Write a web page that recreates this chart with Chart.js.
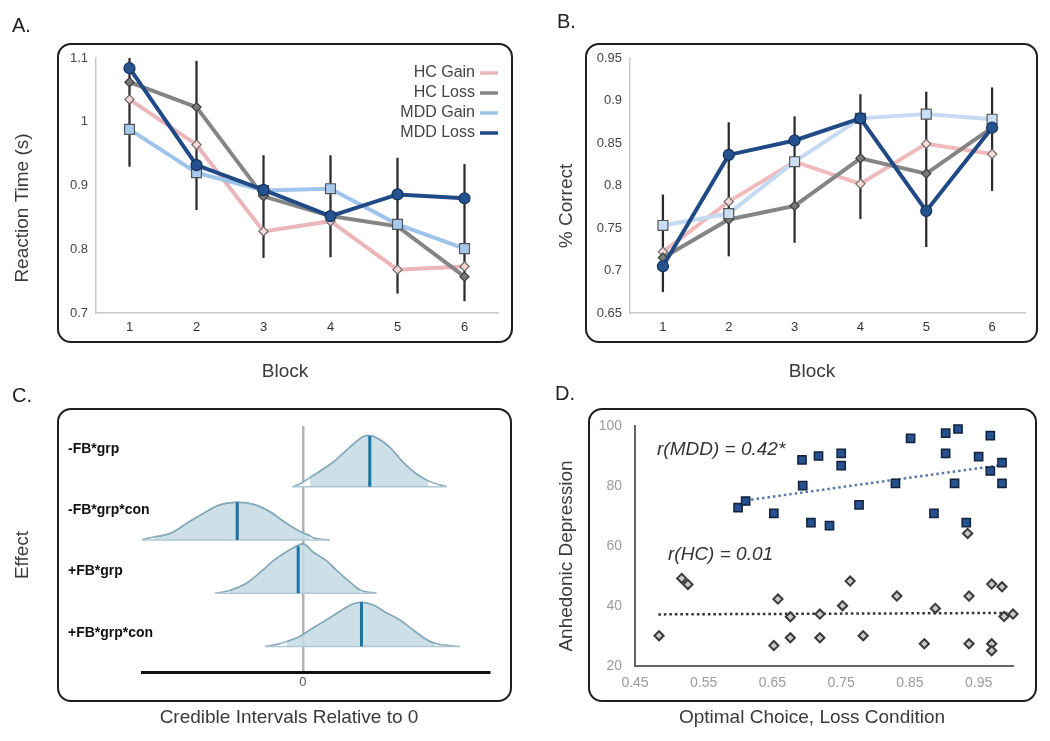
<!DOCTYPE html>
<html>
<head>
<meta charset="utf-8">
<script src="https://cdn.jsdelivr.net/npm/chart.js@4.4.1/dist/chart.umd.min.js"></script>
<style>
  html, body { margin: 0; padding: 0; background: #fff; }
  #fig { position: relative; width: 1050px; height: 741px; overflow: hidden; font-family: "Liberation Sans", Arial, sans-serif; }
  .box { position: absolute; border: 2.5px solid #1e1e1e; border-radius: 14px; box-sizing: border-box; }
  .lbl { position: absolute; font-size: 20px; line-height: 20px; color: #222; }
  canvas { position: absolute; }
</style>
</head>
<body>
<div id="fig">
  <div class="box" style="left:57px;top:43px;width:456px;height:300px"></div>
  <div class="box" style="left:585px;top:43px;width:453px;height:300px"></div>
  <div class="box" style="left:57px;top:408px;width:455px;height:294px"></div>
  <div class="box" style="left:588px;top:408px;width:449px;height:294px"></div>
  <canvas id="cA" width="525" height="390" style="left:0;top:0"></canvas>
  <canvas id="cB" width="525" height="390" style="left:525px;top:0"></canvas>
  <canvas id="cC" width="525" height="361" style="left:0;top:380px"></canvas>
  <canvas id="cD" width="525" height="361" style="left:525px;top:380px"></canvas>
  <div class="lbl" style="left:12px;top:15px">A.</div>
  <div class="lbl" style="left:557px;top:11px">B.</div>
  <div class="lbl" style="left:12px;top:385px">C.</div>
  <div class="lbl" style="left:555px;top:383px">D.</div>
</div>
<script>
// ---- data ----
const blocks = ['1', '2', '3', '4', '5', '6'];
const seriesNames = ['HC Gain', 'HC Loss', 'MDD Gain', 'MDD Loss'];

// A. reaction time
const rtHcGain  = [1.035, 0.964, 0.828, 0.844, 0.768, 0.773];
const rtHcLoss  = [1.062, 1.023, 0.883, 0.852, 0.836, 0.757];
const rtMddGain = [0.988, 0.920, 0.892, 0.895, 0.839, 0.801];
const rtMddLoss = [1.084, 0.932, 0.893, 0.852, 0.886, 0.880];
const rtErrLow  = [0.930, 0.862, 0.787, 0.788, 0.731, 0.719];
const rtErrHigh = [1.100, 1.095, 0.947, 0.947, 0.943, 0.933];
const rtTicks = [0.7, 0.8, 0.9, 1.0, 1.1];

// B. percent correct
const pcHcGain  = [0.722, 0.781, 0.828, 0.802, 0.849, 0.837];
const pcHcLoss  = [0.715, 0.760, 0.776, 0.832, 0.814, 0.868];
const pcMddGain = [0.753, 0.767, 0.828, 0.879, 0.884, 0.878];
const pcMddLoss = [0.705, 0.836, 0.853, 0.879, 0.770, 0.868];
const pcErrLow  = [0.675, 0.717, 0.733, 0.761, 0.728, 0.794];
const pcErrHigh = [0.789, 0.874, 0.881, 0.907, 0.910, 0.915];
const pcTicks = [0.65, 0.7, 0.75, 0.8, 0.85, 0.9, 0.95];

// C. posterior densities (x relative to 0, height in row units)
const effects = ['-FB*grp', '-FB*grp*con', '+FB*grp', '+FB*grp*con'];
const densX = [
  [-0.31, -0.09, 0.21, 0.31, 0.91, 1.41, 1.81, 1.96, 2.21, 2.61, 3.01, 3.41, 3.76, 4.32],
  [-4.89, -4.44, -3.99, -3.49, -2.99, -2.49, -1.99, -1.49, -0.99, -0.49, -0.09, 0.21, 0.31, 0.81],
  [-2.64, -2.19, -1.69, -1.19, -0.89, -0.59, -0.29, 0.01, 0.31, 0.71, 1.01, 1.41, 1.71, 2.21],
  [-1.14, -0.69, -0.49, -0.09, 0.31, 0.71, 1.11, 1.51, 1.76, 2.11, 2.51, 2.91, 3.31, 3.71, 3.96, 4.71]
];
const densH = [
  [0, 0.05, 0.17, 0.21, 0.46, 0.74, 0.94, 0.96, 0.92, 0.74, 0.46, 0.24, 0.11, 0],
  [0, 0.06, 0.12, 0.31, 0.50, 0.66, 0.71, 0.67, 0.53, 0.31, 0.16, 0.08, 0.04, 0],
  [0, 0.05, 0.19, 0.44, 0.61, 0.74, 0.85, 0.93, 0.77, 0.61, 0.43, 0.21, 0.06, 0],
  [0, 0.05, 0.09, 0.19, 0.35, 0.50, 0.66, 0.80, 0.83, 0.78, 0.63, 0.50, 0.31, 0.13, 0.06, 0]
];
const ciLow  = [0.21, -4.44, -2.19, -0.49];
const ciHigh = [3.76, 0.21, 1.71, 3.96];
const effMean = [2.01, -1.97, -0.14, 1.76];
const effMeanTop = [0.95, 0.71, 0.88, 0.83];

// D. scatter
const mddX = [0.600, 0.611, 0.652, 0.693, 0.694, 0.706, 0.717, 0.733, 0.750, 0.750, 0.776, 0.829,
              0.851, 0.885, 0.902, 0.902, 0.915, 0.920, 0.932, 0.950, 0.967, 0.967, 0.984, 0.984];
const mddY = [72.8, 75.0, 70.9, 88.7, 80.1, 67.8, 90.0, 66.8, 90.9, 86.8, 73.7, 80.9,
              95.9, 70.9, 97.6, 90.9, 80.9, 99.0, 67.8, 89.8, 96.8, 85.0, 87.8, 80.9];
const hcX = [0.485, 0.518, 0.527, 0.652, 0.658, 0.676, 0.676, 0.719, 0.719, 0.752, 0.763, 0.782,
             0.831, 0.871, 0.887, 0.934, 0.936, 0.936, 0.969, 0.969, 0.969, 0.984, 0.987, 1.0];
const hcY = [30.1, 49.2, 47.2, 26.8, 42.3, 36.4, 29.4, 37.3, 29.4, 40.1, 48.3, 30.1,
             43.3, 27.4, 39.2, 64.2, 43.3, 27.4, 47.3, 27.4, 25.1, 46.4, 36.5, 37.3];
const mddFitX = [0.611, 0.984], mddFitY = [75.2, 87.0];
const hcFitX = [0.484, 1.0], hcFitY = [37.2, 37.7];
const corrLabels = ['r(MDD) = 0.42*', 'r(HC) = 0.01'];
const dXTicks = [0.45, 0.55, 0.65, 0.75, 0.85, 0.95];
const dYTicks = [20, 40, 60, 80, 100];

// ---- helpers ----
const FONT = '"Liberation Sans", Arial, sans-serif';
Chart.defaults.font.family = FONT;

const panelText = {
  id: 'panelText',
  afterDraw(chart, args, opts) {
    const ctx = chart.ctx;
    (opts.items || []).forEach(t => {
      ctx.save();
      ctx.font = t.font || ('19px ' + FONT);
      ctx.fillStyle = t.color || '#3a3a3a';
      ctx.textAlign = t.align || 'center';
      ctx.textBaseline = 'middle';
      ctx.translate(t.x, t.y);
      if (t.rot) ctx.rotate(t.rot);
      ctx.fillText(t.text, 0, 0);
      ctx.restore();
    });
  }
};

const lineKey = {
  id: 'lineKey',
  afterDraw(chart, args, opts) {
    if (!opts.show) return;
    const {ctx, chartArea} = chart;
    chart.data.datasets.filter(d => d.label).forEach((d, k) => {
      const y = chartArea.top + 15 + k * 20;
      ctx.save();
      ctx.font = '16px ' + FONT;
      ctx.fillStyle = '#444';
      ctx.textAlign = 'right';
      ctx.textBaseline = 'middle';
      ctx.fillText(d.label, chartArea.right - 23, y);
      ctx.strokeStyle = d.borderColor;
      ctx.lineWidth = 3.5;
      ctx.beginPath();
      ctx.moveTo(chartArea.right - 18, y);
      ctx.lineTo(chartArea.right, y);
      ctx.stroke();
      ctx.restore();
    });
  }
};
Chart.register(panelText, lineKey);

const tickFmt = v => String(+Number(v).toFixed(2));

function blockChart(id, series, errLow, errHigh, yTicks, look, leftPad, rightPad, texts, showKey) {
  const datasets = [{
    type: 'bar',
    data: errLow.map((v, i) => [v, errHigh[i]]),
    backgroundColor: '#2b2b2b',
    barThickness: 1.6,
    order: 10
  }];
  series.forEach((vals, k) => {
    datasets.push({
      type: 'line',
      label: seriesNames[k],
      data: vals,
      borderColor: look[k].line,
      borderWidth: 4,
      pointStyle: look[k].shape,
      pointRadius: look[k].r,
      pointBackgroundColor: look[k].fill,
      pointBorderColor: look[k].edge,
      pointBorderWidth: 1.2,
      tension: 0,
      order: 4 - k
    });
  });
  return new Chart(document.getElementById(id), {
    type: 'line',
    data: {labels: blocks, datasets},
    options: {
      responsive: false,
      animation: false,
      layout: {padding: {left: leftPad, right: rightPad, top: 58, bottom: 0}},
      plugins: {
        legend: {display: false},
        tooltip: {enabled: false},
        panelText: {items: texts},
        lineKey: {show: showKey}
      },
      scales: {
        x: {
          offset: true,
          grid: {display: false, drawTicks: false},
          border: {color: '#c9c9c9', width: 1.5},
          ticks: {color: '#333', font: {size: 13}, padding: 7},
          afterFit: s => { s.height = 77; }
        },
        y: {
          min: yTicks[0],
          max: yTicks[yTicks.length - 1],
          afterBuildTicks: s => { s.ticks = yTicks.map(v => ({value: v})); },
          grid: {display: false, drawTicks: false},
          border: {color: '#c9c9c9', width: 1.5},
          ticks: {color: '#444', font: {size: 13}, padding: 8, callback: tickFmt},
          afterFit: s => { s.width = 40; }
        }
      }
    }
  });
}

const lookA = [
  {line: '#eab6b9', shape: 'rectRot', r: 4.6, fill: '#f7d6d6', edge: '#6a6a6a'},
  {line: '#858585', shape: 'rectRot', r: 4.6, fill: '#7a7a7a', edge: '#3c3c3c'},
  {line: '#9fc4ec', shape: 'rect', r: 7, fill: '#a8c9ee', edge: '#555'},
  {line: '#1f4a85', shape: 'circle', r: 5.5, fill: '#24538f', edge: '#13305a'}
];
const lookB = [
  {line: '#f0babd', shape: 'rectRot', r: 4.6, fill: '#f8d9d9', edge: '#6a6a6a'},
  {line: '#858585', shape: 'rectRot', r: 4.6, fill: '#7a7a7a', edge: '#3c3c3c'},
  {line: '#c4daf2', shape: 'rect', r: 7, fill: '#cadef4', edge: '#555'},
  {line: '#1f4a85', shape: 'circle', r: 5.5, fill: '#24538f', edge: '#13305a'}
];

blockChart('cA', [rtHcGain, rtHcLoss, rtMddGain, rtMddLoss], rtErrLow, rtErrHigh, rtTicks, lookA, 56, 27, [
  {text: 'Reaction Time (s)', x: 23, y: 208, rot: -Math.PI / 2},
  {text: 'Block', x: 285, y: 372}
], true);

blockChart('cB', [pcHcGain, pcHcLoss, pcMddGain, pcMddLoss], pcErrLow, pcErrHigh, pcTicks, lookB, 65, 25, [
  {text: '% Correct', x: 42, y: 206, rot: -Math.PI / 2},
  {text: 'Block', x: 287, y: 372}
], false);

// ---- C. ridgelines ----
const rowStep = 1.0, rowFloor = 0.48;
const cSets = [];
effects.forEach((name, i) => {
  const base = rowFloor + (effects.length - 1 - i) * rowStep;
  const pts = densX[i].map((x, j) => ({x, y: base + densH[i][j]}));
  const core = pts.filter(p => p.x >= ciLow[i] && p.x <= ciHigh[i]);
  const curve = {pointRadius: 0, cubicInterpolationMode: 'monotone', borderColor: '#86a9b9', borderWidth: 1.5};
  cSets.push(Object.assign({data: pts, fill: {value: base}, backgroundColor: 'rgba(255,255,255,0.75)', order: 5}, curve));
  cSets.push(Object.assign({data: core, fill: {value: base}, backgroundColor: 'rgba(155,193,210,0.5)', order: 4}, curve));
  cSets.push({data: [{x: pts[0].x, y: base}, {x: pts[pts.length - 1].x, y: base}],
    borderColor: '#b0c8d3', borderWidth: 1.5, pointRadius: 0, order: 3});
  cSets.push({data: [{x: effMean[i], y: base}, {x: effMean[i], y: base + effMeanTop[i]}],
    borderColor: '#1b72a4', borderWidth: 3, pointRadius: 0, order: 1});
});

new Chart(document.getElementById('cC'), {
  type: 'line',
  data: {datasets: cSets},
  options: {
    responsive: false,
    animation: false,
    layout: {padding: {left: 142, right: 36, top: 46, bottom: 0}},
    plugins: {
      legend: {display: false},
      tooltip: {enabled: false},
      panelText: {items: [
        {text: 'Effect', x: 23, y: 175, rot: -Math.PI / 2},
        {text: 'Credible Intervals Relative to 0', x: 289, y: 338}
      ].concat(effects.map((e, i) => ({
        text: e, x: 68, y: 69 + i * 61.3, align: 'left', color: '#111', font: 'bold 14px ' + FONT
      })))}
    },
    scales: {
      x: {
        type: 'linear',
        min: -4.83,
        max: 5.59,
        afterBuildTicks: s => { s.ticks = [{value: 0}]; },
        grid: {display: true, drawOnChartArea: true, drawTicks: false, color: '#b3b3b3', lineWidth: 2.5},
        border: {color: '#111', width: 3},
        ticks: {color: '#555', font: {size: 13}, padding: 3},
        afterFit: s => { s.height = 69; }
      },
      y: {type: 'linear', display: false, min: 0, max: 4.62}
    }
  }
});

// ---- D. scatter ----
new Chart(document.getElementById('cD'), {
  type: 'scatter',
  data: {
    datasets: [
      {label: 'MDD', data: mddX.map((x, i) => ({x, y: mddY[i]})), pointStyle: 'rect', pointRadius: 5.8,
        backgroundColor: '#26508e', borderColor: '#13233d', borderWidth: 1.5, clip: false, order: 1},
      {label: 'HC', data: hcX.map((x, i) => ({x, y: hcY[i]})), pointStyle: 'rectRot', pointRadius: 4.6,
        backgroundColor: '#cacaca', borderColor: '#383838', borderWidth: 2, clip: false, order: 2},
      {type: 'line', data: mddFitX.map((x, i) => ({x, y: mddFitY[i]})), borderColor: '#5877a6',
        borderWidth: 2.5, borderDash: [2.5, 3], pointRadius: 0, order: 3},
      {type: 'line', data: hcFitX.map((x, i) => ({x, y: hcFitY[i]})), borderColor: '#333',
        borderWidth: 2.5, borderDash: [2.5, 3], pointRadius: 0, clip: false, order: 4}
    ]
  },
  options: {
    responsive: false,
    animation: false,
    layout: {padding: {left: 60, right: 37, top: 46, bottom: 0}},
    plugins: {
      legend: {display: false},
      tooltip: {enabled: false},
      panelText: {items: [
        {text: 'Anhedonic Depression', x: 42, y: 176, rot: -Math.PI / 2},
        {text: 'Optimal Choice, Loss Condition', x: 287, y: 338},
        {text: corrLabels[0], x: 132, y: 70, align: 'left', color: '#333', font: 'italic 19px ' + FONT},
        {text: corrLabels[1], x: 143, y: 175, align: 'left', color: '#333', font: 'italic 19px ' + FONT}
      ]}
    },
    scales: {
      x: {
        min: 0.45,
        max: 1.0,
        afterBuildTicks: s => { s.ticks = dXTicks.map(v => ({value: v})); },
        grid: {display: false, drawTicks: false},
        border: {color: '#666', width: 2},
        ticks: {color: '#9b9b9b', font: {size: 14}, padding: 8.6, callback: v => Number(v).toFixed(2)},
        afterFit: s => { s.height = 75; }
      },
      y: {
        min: 20,
        max: 100,
        afterBuildTicks: s => { s.ticks = dYTicks.map(v => ({value: v})); },
        grid: {display: false, drawTicks: false},
        border: {color: '#666', width: 2},
        ticks: {color: '#9b9b9b', font: {size: 14}, padding: 13},
        afterFit: s => { s.width = 50; }
      }
    }
  }
});
</script>
</body>
</html>
